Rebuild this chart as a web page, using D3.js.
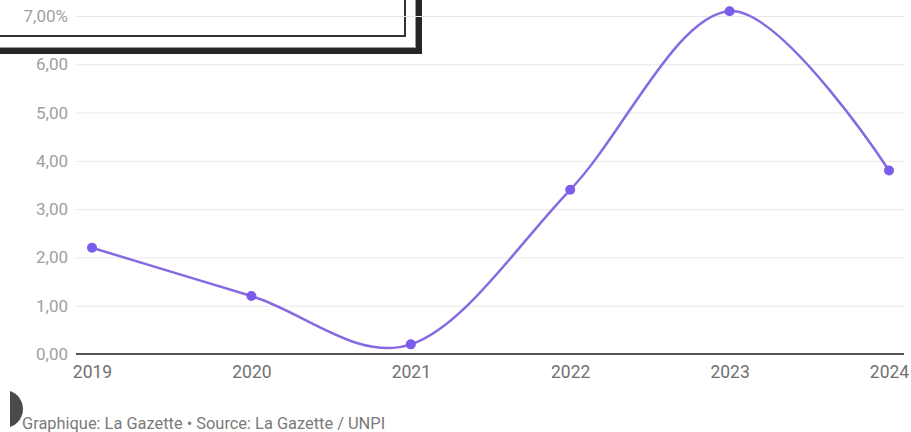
<!DOCTYPE html>
<html>
<head>
<meta charset="utf-8">
<script src="https://cdn.jsdelivr.net/npm/d3@7"></script>
<style>
  html, body { margin: 0; padding: 0; background: #fff; }
  svg { display: block; font-family: Roboto, "Noto Sans", sans-serif; }
</style>
</head>
<body>
<svg id="chart" width="911" height="432"></svg>
<script>
// Annual change in property tax (%), 2019–2024
const years = ["2019", "2020", "2021", "2022", "2023", "2024"];
const values = [2.2, 1.2, 0.2, 3.4, 7.1, 3.8];
const yTicks = [0, 1, 2, 3, 4, 5, 6, 7];
const footer = "Graphique: La Gazette • Source: La Gazette / UNPI";

const svg = d3.select("#chart");

const x = d3.scalePoint().domain(years).range([92, 889]);
const y = d3.scaleLinear().domain([0, 7]).range([354, 16]);

// Framed panel in the top-left corner
const panel = svg.append("g");
panel.append("rect").attr("x", -10).attr("y", -10).attr("width", 432).attr("height", 64).attr("fill", "#262626");
panel.append("rect").attr("x", -10).attr("y", -10).attr("width", 425.5).attr("height", 57.5)
  .attr("fill", "#fff").attr("stroke", "#9a9a9a").attr("stroke-width", 1);
panel.append("rect").attr("x", -10).attr("y", -10).attr("width", 415).attr("height", 46)
  .attr("fill", "#fff").attr("stroke", "#333").attr("stroke-width", 2);

// Grid lines and y labels
const fmt = v => d3.format(".2f")(v).replace(".", ",") + (v === 7 ? "%" : "");
const gy = svg.append("g").attr("transform", "translate(76,0)").call(
  d3.axisLeft(y).tickValues(yTicks).tickSize(-(905 - 76)).tickFormat(fmt).tickPadding(8)
);
gy.select(".domain").remove();
gy.selectAll(".tick line").attr("stroke", "#e8e8e8").attr("stroke-width", 1);
gy.selectAll(".tick text").attr("fill", "#a0a0a0").attr("font-size", 17)
  .attr("font-family", "Roboto, sans-serif");

// Baseline
svg.append("line").attr("x1", 76).attr("x2", 904).attr("y1", y(0)).attr("y2", y(0))
  .attr("stroke", "#555").attr("stroke-width", 2);

// X labels
const gx = svg.append("g").attr("transform", `translate(0,${y(0)})`)
  .call(d3.axisBottom(x).tickSize(0).tickPadding(12));
gx.select(".domain").remove();
gx.selectAll(".tick text").attr("fill", "#707070").attr("font-size", 17.5)
  .attr("font-family", "Roboto, sans-serif");

// Line and points
const pts = years.map((yr, i) => [x(yr), y(values[i])]);
svg.append("path")
  .attr("d", d3.line().curve(d3.curveCardinal.tension(0))(pts))
  .attr("fill", "none").attr("stroke", "#8769e2").attr("stroke-width", 2.5);
svg.selectAll("circle.pt").data(pts).join("circle").attr("class", "pt")
  .attr("cx", d => d[0]).attr("cy", d => d[1]).attr("r", 5).attr("fill", "#7c5cec");

// Footer badge and credit line
svg.append("clipPath").attr("id", "badgeClip").append("rect")
  .attr("x", 10).attr("y", 380).attr("width", 30).attr("height", 52);
svg.append("circle").attr("cx", 4).attr("cy", 409).attr("r", 19)
  .attr("fill", "#4a4a4a").attr("clip-path", "url(#badgeClip)");
svg.append("text").attr("x", 22).attr("y", 429).attr("fill", "#7a7a7a")
  .attr("font-size", 16.4).attr("font-family", "Roboto, sans-serif").text(footer);
</script>
</body>
</html>
